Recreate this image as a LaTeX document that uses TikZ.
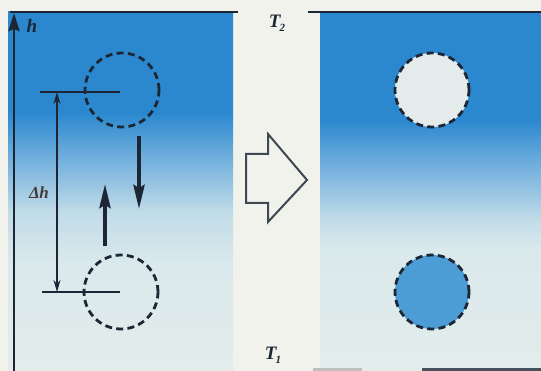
\documentclass[tikz,border=0pt]{standalone}
\usepackage{fontspec}
\setmainfont{Liberation Serif}
\usetikzlibrary{arrows.meta}
\definecolor{bg}{HTML}{F1F2EC}
\definecolor{deep}{HTML}{2B88CF}
\definecolor{midb}{HTML}{78B3DE}
\definecolor{lightb}{HTML}{C2DCE8}
\definecolor{pale}{HTML}{DAE9EC}
\definecolor{paler}{HTML}{E3ECEA}
\definecolor{mid}{HTML}{4C9CD6}
\definecolor{ink}{HTML}{1C2634}
\pgfdeclareverticalshading{leftpanel}{100bp}{color(0bp)=(paler); color(25bp)=(paler); color(40bp)=(pale); color(47bp)=(lightb); color(54bp)=(midb); color(61bp)=(deep); color(100bp)=(deep)}
\pgfdeclareverticalshading{rightpanel}{100bp}{color(0bp)=(paler); color(25bp)=(paler); color(42bp)=(pale); color(46bp)=(lightb); color(53bp)=(midb); color(60bp)=(deep); color(100bp)=(deep)}
\tikzset{
  bubble/.style={circle, draw=ink, line width=2.8pt, dash pattern=on 7pt off 4.3pt, minimum size=74pt, inner sep=0pt},
  frameline/.style={draw=ink, line width=2.6pt},
  dimline/.style={draw=ink, line width=1.6pt},
  motion/.style={draw=ink, line width=3.8pt, -{Stealth[length=24pt,width=11pt,inset=3pt]}},
  lbl/.style={font=\bfseries\itshape\fontsize{19}{19}\selectfont, text=ink, inner sep=0pt}
}
\begin{document}
\begin{tikzpicture}[x=1pt,y=1pt]
\useasboundingbox (0,0) rectangle (541,-371);
\fill[bg] (0,0) rectangle (541,-371);
% panels
\shade[shading=leftpanel] (8,-12) rectangle (233,-371);
\shade[shading=rightpanel] (320,-12) rectangle (541,-371);
% top frame lines
\coordinate (tl1) at (10,-12);
\coordinate (tl2) at (238,-12);
\coordinate (tr1) at (308,-12);
\coordinate (tr2) at (541,-12);
\draw[frameline] (tl1) -- (tl2);
\draw[frameline] (tr1) -- (tr2);
% axis
\coordinate (axb) at (14,-371);
\coordinate (axt) at (14,-13);
\draw[draw=ink, line width=2.8pt, -{Stealth[length=18pt,width=11pt,inset=2pt]}] (axb) -- (axt);
\node[lbl] (h) at (32,-26) {h};
% left bubbles
\node[bubble] (c1) at (122,-90) {};
\node[bubble] (c2) at (121,-292) {};
% dimension
\coordinate (d1a) at (40,-92);
\coordinate (d1b) at (120,-92);
\coordinate (d2a) at (42,-292);
\coordinate (d2b) at (120,-292);
\draw[dimline] (d1a) -- (d1b);
\draw[dimline] (d2a) -- (d2b);
\coordinate (v1) at (57,-92);
\coordinate (v2) at (57,-292);
\draw[draw=ink, line width=1.6pt, {Stealth[length=12pt,width=7pt]}-{Stealth[length=12pt,width=7pt]}] (v1) -- (v2);
\node[lbl, font=\bfseries\itshape\fontsize{17}{17}\selectfont, text=ink!75!brown] (dh) at (39,-193) {Δ\kern-0.5pt h};
% motion arrows
\coordinate (da) at (139,-136);
\coordinate (db) at (139,-209);
\draw[motion] (da) -- (db);
\coordinate (ua) at (105,-246);
\coordinate (ub) at (105,-184);
\draw[motion] (ua) -- (ub);
% big hollow arrow
\draw[draw=ink!85, line width=2pt, line join=miter, fill=bg]
  (246,-154) -- (268,-154) -- (268,-134) -- (307,-180) -- (268,-222) -- (268,-203) -- (246,-203) -- cycle;
% right bubbles
\node[bubble, fill=paler] (c3) at (432,-90) {};
\node[bubble, fill=mid] (c4) at (432,-292) {};
% labels
\node[lbl] (t2) at (277,-23) {T\kern-1pt\raisebox{-4pt}{\fontsize{11}{11}\selectfont 2}};
\node[lbl] (t1) at (273,-355) {T\kern-1pt\raisebox{-4pt}{\fontsize{11}{11}\selectfont 1}};
% bottom scan remnants
\coordinate (b1) at (422,-369.5);
\coordinate (b2) at (541,-369.5);
\draw[draw=ink!80, line width=2.4pt] (b1) -- (b2);
\coordinate (g1) at (313,-369.5);
\coordinate (g2) at (362,-369.5);
\draw[draw=gray!50, line width=2.4pt] (g1) -- (g2);
\end{tikzpicture}
\end{document}
